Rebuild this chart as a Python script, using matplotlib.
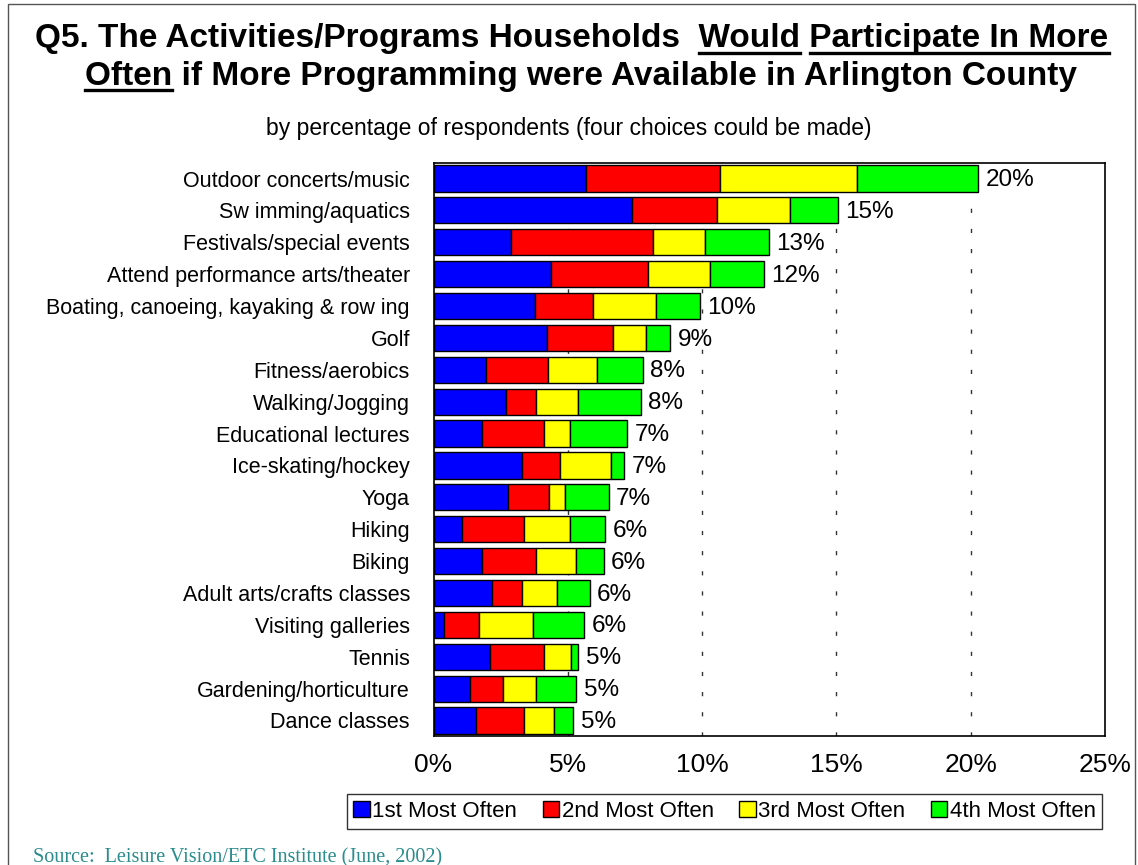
import matplotlib
matplotlib.use("Agg")
import matplotlib.pyplot as plt
import numpy as np
from matplotlib.patches import Rectangle, Patch
from matplotlib.lines import Line2D

categories = [
    "Outdoor concerts/music",
    "Sw imming/aquatics",
    "Festivals/special events",
    "Attend performance arts/theater",
    "Boating, canoeing, kayaking & row ing",
    "Golf",
    "Fitness/aerobics",
    "Walking/Jogging",
    "Educational lectures",
    "Ice-skating/hockey",
    "Yoga",
    "Hiking",
    "Biking",
    "Adult arts/crafts classes",
    "Visiting galleries",
    "Tennis",
    "Gardening/horticulture",
    "Dance classes",
]
first = [5.67, 7.38, 2.89, 4.39, 3.79, 4.24, 1.95, 2.71, 1.81, 3.31, 2.79, 1.07, 1.81, 2.19, 0.39, 2.10, 1.37, 1.59]
second = [4.99, 3.19, 5.30, 3.59, 2.16, 2.46, 2.32, 1.11, 2.30, 1.40, 1.50, 2.31, 2.01, 1.10, 1.29, 2.01, 1.22, 1.79]
third = [5.12, 2.71, 1.90, 2.30, 2.34, 1.21, 1.83, 1.57, 0.99, 1.90, 0.60, 1.72, 1.49, 1.30, 2.01, 1.00, 1.23, 1.12]
fourth = [4.49, 1.78, 2.40, 2.01, 1.62, 0.89, 1.69, 2.32, 2.11, 0.50, 1.63, 1.30, 1.02, 1.22, 1.92, 0.27, 1.50, 0.70]
total_labels = ["20%", "15%", "13%", "12%", "10%", "9%", "8%", "8%", "7%", "7%",
                "7%", "6%", "6%", "6%", "6%", "5%", "5%", "5%"]
series_names = ["1st Most Often", "2nd Most Often", "3rd Most Often", "4th Most Often"]
series_colors = ["#0000FF", "#FF0000", "#FFFF00", "#00FF00"]
xticks = [0, 5, 10, 15, 20, 25]
xtick_labels = ["0%", "5%", "10%", "15%", "20%", "25%"]

W, H = 1138, 865
fig = plt.figure(figsize=(W / 100, H / 100), dpi=100)
plt.rcParams['font.family'] = ['Liberation Sans', 'DejaVu Sans']

# outer frame
fig.patches.append(Rectangle((8 / W, -0.01), (1135 - 8) / W, 1 - 4 / H + 0.01,
                             transform=fig.transFigure, fill=False,
                             edgecolor="#555555", linewidth=1.0))

ax = fig.add_axes([433.5 / W, 1 - 736.4 / H, (1105 - 433.5) / W, (736.4 - 162.6) / H])

y = np.arange(len(categories))
series = [first, second, third, fourth]
left = np.zeros(len(categories))
for vals, col, name in zip(series, series_colors, series_names):
    ax.barh(y, vals, left=left, height=0.82, color=col, edgecolor="black",
            linewidth=1.0, label=name, zorder=3)
    left = left + np.array(vals)

for yi, tot, lab in zip(y, left, total_labels):
    ax.text(tot + 0.28, yi + 0.05, lab, va="center", ha="left", fontsize=17.5, zorder=4)

ax.set_xlim(0, 25)
ax.set_ylim(len(categories) - 0.5, -0.5)
ax.set_yticks(y)
ax.set_yticklabels(categories, fontsize=15.5)
ax.set_xticks(xticks)
ax.set_xticklabels(xtick_labels, fontsize=19)
ax.tick_params(axis="y", length=0, pad=17)
ax.tick_params(axis="x", length=0, pad=12)
for xv in xticks[1:-1]:
    ax.axvline(xv, color="#333333", linewidth=1.0, dashes=(3, 11.5), zorder=1)
for sp in ax.spines.values():
    sp.set_color("black")
    sp.set_linewidth(1.2)

# legend
handles = [Patch(facecolor=c, edgecolor="black", linewidth=1.0) for c in series_colors]
leg = fig.legend(handles, series_names, loc="center", ncol=4,
                 bbox_to_anchor=(724.5 / W, 1 - 811.5 / H), fontsize=16,
                 frameon=True, fancybox=False, edgecolor="black",
                 handlelength=0.75, handleheight=0.75, handletextpad=0.1,
                 columnspacing=1.15, borderpad=0.3, borderaxespad=0)
leg.get_frame().set_linewidth(1.0)

# title with underlined words
title_lines = [
    ("Q5. The Activities/Programs Households  Would Participate In More", 572, 39,
     [("Q5. The Activities/Programs Households  ", "Would"),
      ("Q5. The Activities/Programs Households  Would ", "Participate In More")]),
    ("Often if More Programming were Available in Arlington County", 581, 76,
     [("", "Often")]),
]
fig.canvas.draw()
renderer = fig.canvas.get_renderer()
tsize = 24
for text, cx, cy, unders in title_lines:
    t = fig.text(cx / W, 1 - cy / H, text, ha="center", va="center",
                 fontsize=tsize, fontweight="bold")
    bb = t.get_window_extent(renderer)
    x0 = bb.x0
    for prefix, word in unders:
        def width(s):
            if not s:
                return 0.0
            tmp = fig.text(0, 0, s, fontsize=tsize, fontweight="bold")
            w = tmp.get_window_extent(renderer).width
            tmp.remove()
            return w
        xa = x0 + width(prefix)
        xb = x0 + width(prefix + word)
        yl = bb.y0 + 1.5
        fig.add_artist(Line2D([xa / W, xb / W], [yl / H, yl / H],
                              transform=fig.transFigure, color="black", linewidth=2.4))

fig.text(569 / W, 1 - 128 / H, "by percentage of respondents (four choices could be made)",
         ha="center", va="center", fontsize=16.5)

fig.text(33 / W, 1 - 862 / H, "Source:  Leisure Vision/ETC Institute (June, 2002)",
         ha="left", va="baseline", fontsize=14.5, family=["Liberation Serif", "DejaVu Serif"],
         color="#2A8C8C")

fig.savefig("out.png", dpi=100)
